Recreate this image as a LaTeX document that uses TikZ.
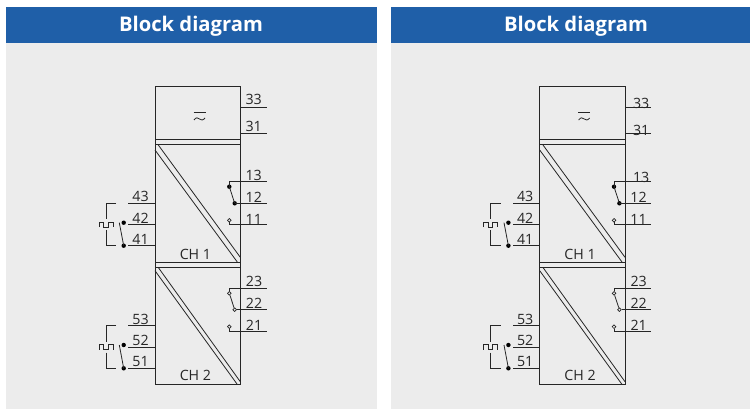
\documentclass[tikz,border=0pt]{standalone}
\usepackage{fontspec}
\setmainfont{Open Sans}
\definecolor{hdr}{HTML}{1F5FA8}
\definecolor{pane}{HTML}{ECECEC}
\definecolor{ink}{HTML}{262626}
\tikzset{
  wire/.style={draw=ink,line width=1pt},
  thin wire/.style={draw=ink,line width=0.8pt},
  num/.style={font=\fontsize{14.2}{15}\selectfont,text=ink,inner sep=0pt,anchor=center},
  title/.style={font=\bfseries\fontsize{20.2}{22}\selectfont,text=white,inner sep=0pt,anchor=center},
  closed/.style={circle,fill=black,inner sep=0pt,minimum size=4.4pt},
  open/.style={circle,draw=ink,fill=pane,line width=0.7pt,inner sep=0pt,minimum size=3.6pt},
}
% #1 prefix, #2 x offset, #3 y of 33, #4 x of 33, #5 x of 31, #6 y of 31, #7 position of 13
\newcommand{\blockpanel}[7]{%
\begin{scope}[xshift=#2pt]
  \draw[wire] (155,87) rectangle (240.3,384);
  \draw[wire] (155,139.5) -- (240.3,139.5) (155,145) -- (240.3,145);
  \draw[wire] (155,262) -- (240.3,262) (155,267.5) -- (240.3,267.5);
  % supply symbol
  \draw[thin wire] (193.5,112.3) -- (205.7,112.3);
  \draw[thin wire] (194,120) .. controls (196,117) and (198,117.5) .. (199.5,119) .. controls (201,120.5) and (203,120.5) .. (205,118);
  % isolation diagonals
  \draw[thin wire] (158.3,145) -- (240.3,257.3) (155,150) -- (237.3,262);
  \draw[thin wire] (158.3,267.5) -- (240.3,381.7) (155,270.7) -- (237,384);
  % top terminals
  \coordinate (#1t33) at (266.7,107.7);
  \coordinate (#1t31) at (266.7,134);
  \draw[wire] (240.3,107.7) -- (#1t33);
  \draw[wire] (240.3,134) -- (#1t31);
  \node[num] (#1n33) at (#4,#3) {33};
  \node[num] (#1n31) at (#5,#6) {31};
  % relay channel 1
  \coordinate (#1t13) at (266.7,182);
  \coordinate (#1t12) at (266.7,203.3);
  \coordinate (#1t11) at (266.7,224.7);
  \node[closed] (#1c13) at (229.3,186.7) {};
  \node[closed] (#1c12) at (234.7,203.3) {};
  \node[open] (#1c11) at (229.3,220.3) {};
  \draw[wire] (#1c13.center) -- (229.3,182) -- (#1t13);
  \draw[wire] (#1c12.center) -- (#1t12);
  \draw[thin wire] (#1c13.center) -- (#1c12.center);
  \draw[wire] (#1c11.south) -- (229.3,224.7) -- (#1t11);
  \node[num] (#1n13) at (#7) {13};
  \node[num] (#1n12) at (253.8,197) {12};
  \node[num] (#1n11) at (253.8,219) {11};
  % relay channel 2
  \coordinate (#1t23) at (266.7,288.3);
  \coordinate (#1t22) at (266.7,309.7);
  \coordinate (#1t21) at (266.7,331);
  \node[open] (#1c23) at (229.3,293.3) {};
  \node[open] (#1c22) at (234.7,309.7) {};
  \node[open] (#1c21) at (229.3,326.7) {};
  \draw[wire] (#1c23.north) -- (229.3,288.3) -- (#1t23);
  \draw[wire] (#1c22.east) -- (#1t22);
  \draw[thin wire] (#1c23) -- (#1c22);
  \draw[wire] (#1c21.south) -- (229.3,331) -- (#1t21);
  \node[num] (#1n23) at (254,281.8) {23};
  \node[num] (#1n22) at (254,303.5) {22};
  \node[num] (#1n21) at (254,325) {21};
  % left groups
  \foreach \g/\a/\b/\c/\la/\lb/\lc in {p/203.3/224.7/245.7/43/42/41,q/325.7/347/368.3/53/52/51}{
    \coordinate (#1\g A) at (128.3,\a);
    \coordinate (#1\g B) at (128.3,\b);
    \coordinate (#1\g C) at (128.3,\c);
    \draw[wire] (#1\g A) -- (155,\a);
    \draw[wire] (#1\g B) -- (155,\b);
    \draw[wire] (#1\g C) -- (155,\c);
    \node[num] at (140.5,\a-6.5) {\la};
    \node[num] at (140.5,\b-6.5) {\lb};
    \node[num] at (140.5,\c-6.5) {\lc};
    \node[closed] (#1\g d) at (123.7,\b-2) {};
    \node[closed] (#1\g e) at (123.7,\c) {};
    \draw[thin wire] (119.3,\b-2) -- (#1\g e.center);
    \draw[thin wire] (116,\a) -- (106,\a) -- (106,\b-5.5) (106,\b+5.5) -- (106,\c) -- (116,\c);
    \draw[thin wire] (99,\b+2.5) -- (99,\b-2.2) -- (103.5,\b-2.2) -- (103.5,\b+2.5) -- (108,\b+2.5) -- (108,\b-2.2) -- (113,\b-2.2) -- (113,\b+2.5);
  }
  \node[num] (#1ch1) at (195.4,254) {CH 1};
  \node[num] (#1ch2) at (195.4,375.8) {CH 2};
\end{scope}}
\begin{document}
\begin{tikzpicture}[x=1pt,y=-1pt]
\useasboundingbox (0,0) rectangle (750,409);
\fill[white] (0,0) rectangle (750,409);
\fill[pane] (6,7) rectangle (376.5,408.5);
\fill[pane] (391,7) rectangle (750,408.5);
\fill[hdr] (6,7) rectangle (376.5,43);
\fill[hdr] (391,7) rectangle (750,43);
\node[title] (t1) at (191,25.8) {Block diagram};
\node[title] (t2) at (576,25.8) {Block diagram};
\blockpanel{a}{0}{99.5}{253.7}{253.7}{126.5}{253.7,175.5}
\blockpanel{b}{384.7}{103.5}{256.5}{256.5}{130.5}{256.5,177}
\end{tikzpicture}
\end{document}
